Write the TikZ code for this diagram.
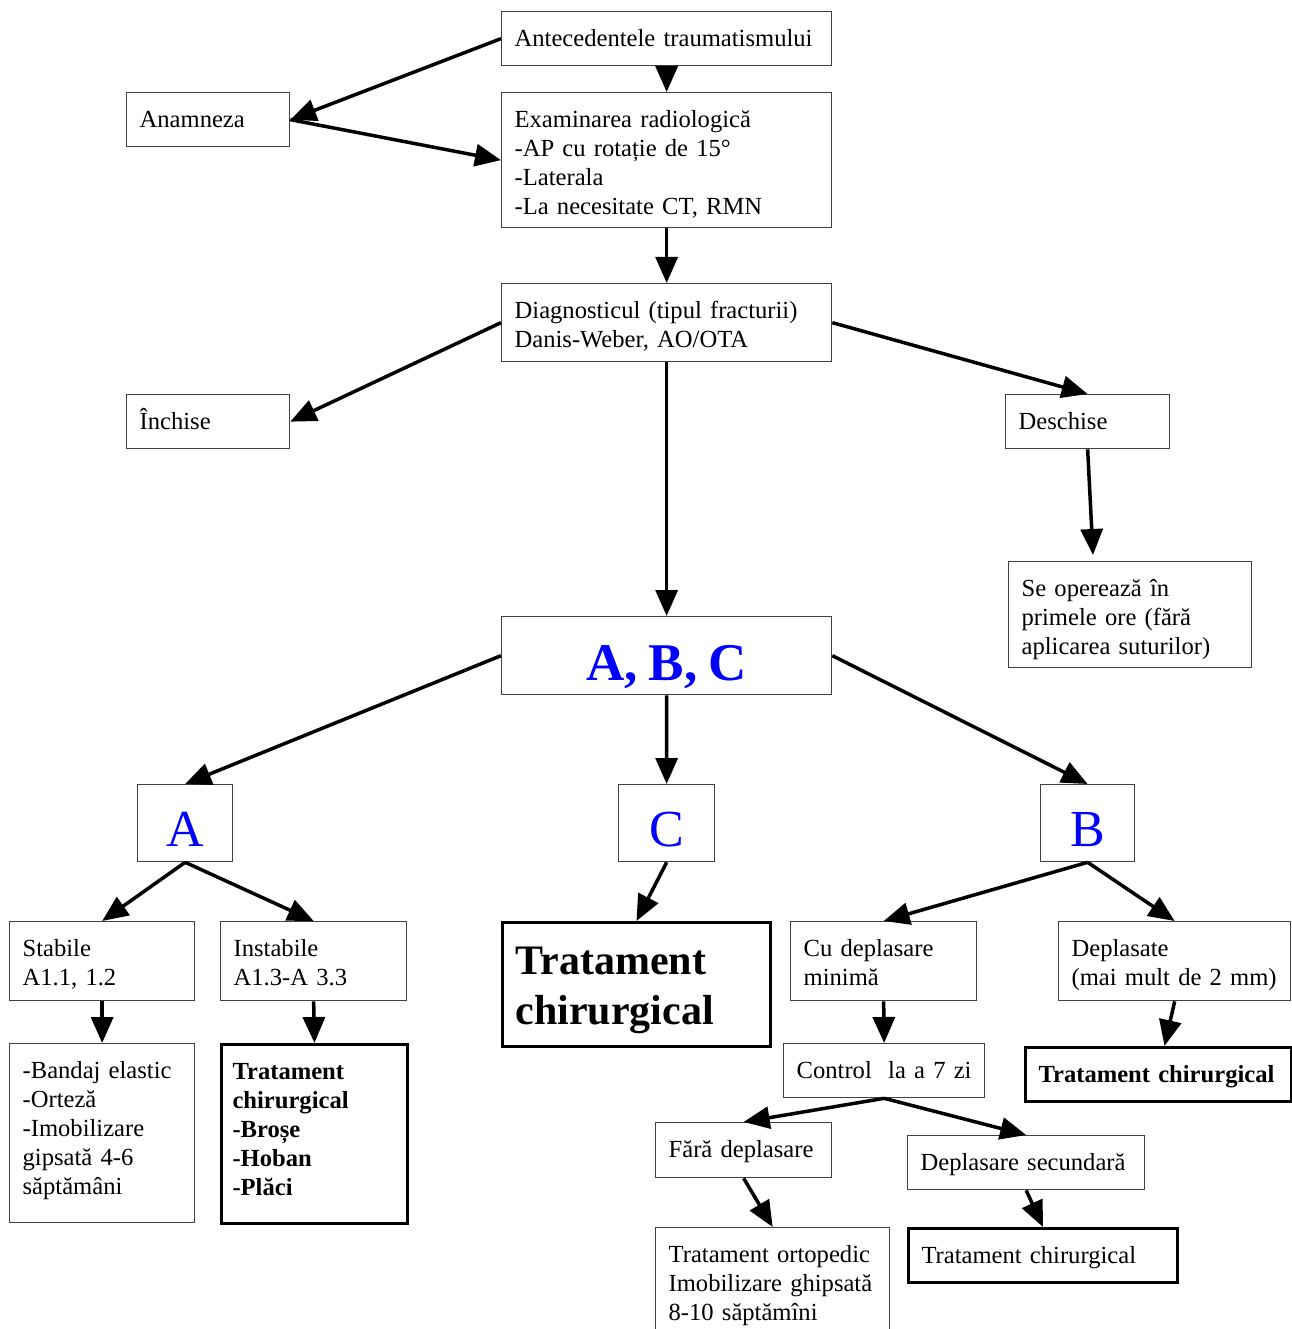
\documentclass[tikz,border=0pt]{standalone}
\usepackage{fontspec}
\setmainfont[WordSpace=0.85]{Liberation Serif}
\usetikzlibrary{arrows.meta}
\definecolor{lblue}{RGB}{0,0,255}
\newcommand\nsz{\fontsize{24.6bp}{29bp}\selectfont}
\newcommand\bigsz{\fontsize{42bp}{50bp}\selectfont}
\tikzset{
  box/.style={draw=black!75, line width=1.3bp, anchor=north west, inner xsep=13bp, inner ysep=0pt, align=left, font=\nsz, text height=35bp},
  tbox/.style={box, draw=black, line width=3bp},
  arr/.style={line width=3.5bp, -{Triangle[length=26bp,width=22bp]}},
  letter/.style={draw=black!75, line width=1.3bp, anchor=north west, inner sep=0pt, text=lblue},
}
\begin{document}
\begin{tikzpicture}[x=1bp,y=-1bp]
\useasboundingbox[fill=white] (0,0) rectangle (1291,1329);
% nodes
\node[box, minimum width=330bp, minimum height=54bp, text depth=19bp, text width=304bp] (ante) at (501,11) {Antecedentele traumatismului};
\node[box, minimum width=330bp, minimum height=135bp, text depth=100bp, text width=304bp] (exam) at (501,92) {Examinarea radiologică\\-AP cu rotație de 15°\\-Laterala\\-La necesitate CT, RMN};
\node[box, minimum width=163bp, minimum height=54bp, text depth=19bp, text width=137bp] (anam) at (126,92) {Anamneza};
\node[box, minimum width=330bp, minimum height=78bp, text depth=43bp, text width=304bp] (diag) at (501,283) {Diagnosticul (tipul fracturii)\\Danis-Weber, AO/OTA};
\node[box, minimum width=163bp, minimum height=54bp, text depth=19bp, text width=137bp] (inch) at (126,394) {Închise};
\node[box, minimum width=164bp, minimum height=54bp, text depth=19bp, text width=138bp] (desc) at (1005,394) {Deschise};
\node[box, minimum width=243bp, minimum height=106bp, text depth=71bp, text width=217bp] (seop) at (1008,561) {Se operează în\\primele ore (fără\\aplicarea suturilor)};
\node[letter, minimum width=330bp, minimum height=78bp, text height=64bp, text depth=14bp, font=\fontsize{53bp}{60bp}\selectfont\bfseries] (abc) at (501,616) {A, B, C};
\node[letter, minimum width=95bp, minimum height=77bp, text height=62bp, text depth=15bp, font=\fontsize{52bp}{60bp}\selectfont] (A) at (137,784) {A};
\node[letter, minimum width=96bp, minimum height=77bp, text height=62bp, text depth=15bp, font=\fontsize{52bp}{60bp}\selectfont] (C) at (618,784) {C};
\node[letter, minimum width=94bp, minimum height=77bp, text height=62bp, text depth=15bp, font=\fontsize{52bp}{60bp}\selectfont] (B) at (1040,784) {B};
\node[box, minimum width=185bp, minimum height=79bp, text depth=44bp, text width=159bp] (stab) at (9,921) {Stabile\\A1.1, 1.2};
\node[box, minimum width=186bp, minimum height=79bp, text depth=44bp, text width=160bp] (inst) at (220,921) {Instabile\\A1.3-A 3.3};
\node[box, minimum width=185bp, minimum height=179bp, text depth=144bp, text width=159bp] (band) at (9,1043) {-Bandaj elastic\\-Orteză\\-Imobilizare\\gipsată 4-6\\săptămâni};
\node[tbox, minimum width=186bp, minimum height=179bp, text depth=144bp, text width=164bp, inner xsep=11bp, font=\nsz\bfseries] (tinst) at (220,1043) {Tratament\\chirurgical\\-Broșe\\-Hoban\\-Plăci};
\node[tbox, minimum width=268bp, minimum height=124bp, text height=52bp, text depth=72bp, text width=242bp, font=\bigsz\bfseries] (tbig) at (501,921) {Tratament\\chirurgical};
\node[box, minimum width=186bp, minimum height=79bp, text depth=44bp, text width=160bp] (cudep) at (790,921) {Cu deplasare\\minimă};
\node[box, minimum width=232bp, minimum height=79bp, text depth=44bp, text width=206bp] (depl) at (1058,921) {Deplasate\\(mai mult de 2 mm)};
\node[box, minimum width=201bp, minimum height=54bp, text depth=19bp, text width=175bp] (ctrl) at (783,1043) {\mbox{Control\ \ la a 7 zi}};
\node[tbox, minimum width=266bp, minimum height=54bp, text depth=19bp, text width=240bp, font=\nsz\bfseries] (tdep) at (1024,1046) {Tratament chirurgical};
\node[box, minimum width=176bp, minimum height=55bp, text depth=20bp, text width=150bp] (fara) at (655,1122) {Fără deplasare};
\node[box, minimum width=237bp, minimum height=54bp, text depth=19bp, text width=211bp] (dsec) at (907,1135) {Deplasare secundară};
\node[box, minimum width=234bp, minimum height=112bp, text depth=77bp, text width=208bp] (torto) at (655,1227) {Tratament ortopedic\\Imobilizare ghipsată\\8-10 săptămîni};
\node[tbox, minimum width=269bp, minimum height=54bp, text depth=19bp, text width=243bp] (tchir) at (907,1227) {Tratament chirurgical};
% connectors
\draw[arr] (ante.west) -- (anam.east);
\draw[arr] (anam.east) -- (exam.west);
\draw[arr] (ante.south) -- (exam.north);
\draw[arr] (exam.south) -- (diag.north);
\draw[arr] (diag.west) -- (inch.east);
\draw[arr] (diag.east) -- (desc.north);
\draw[arr] (desc.south) -- ([xshift=85bp,yshift=6bp]seop.north west);
\draw[arr] (diag.south) -- (abc.north);
\draw[arr] (abc.west) -- (A.north);
\draw[arr] (abc.south) -- (C.north);
\draw[arr] (abc.east) -- (B.north);
\draw[arr] (A.south) -- (stab.north);
\draw[arr] (A.south) -- (inst.north);
\draw[arr] (C.south) -- (tbig.north);
\draw[arr] (B.south) -- (cudep.north);
\draw[arr] (B.south) -- (depl.north);
\draw[arr] (stab.south) -- (band.north);
\draw[arr] (inst.south) -- (tinst.north);
\draw[arr] (cudep.south) -- (ctrl.north);
\draw[arr] (depl.south) -- ([xshift=6bp]tdep.north);
\draw[arr] (ctrl.south) -- (fara.north);
\draw[arr] (ctrl.south) -- (dsec.north);
\draw[arr] (fara.south) -- (torto.north);
\draw[arr] (dsec.south) -- (tchir.north);
\end{tikzpicture}
\end{document}
